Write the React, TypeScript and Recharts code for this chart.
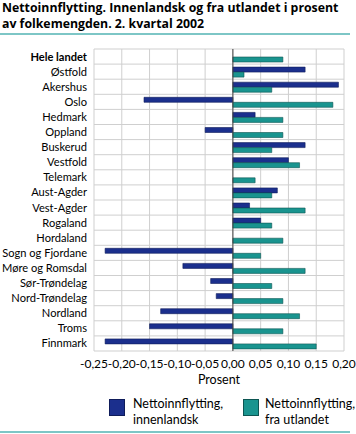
import {
  BarChart,
  Bar,
  XAxis,
  YAxis,
  CartesianGrid,
  ReferenceLine,
} from "recharts";

const fylker = [
  "Hele landet",
  "Østfold",
  "Akershus",
  "Oslo",
  "Hedmark",
  "Oppland",
  "Buskerud",
  "Vestfold",
  "Telemark",
  "Aust-Agder",
  "Vest-Agder",
  "Rogaland",
  "Hordaland",
  "Sogn og Fjordane",
  "Møre og Romsdal",
  "Sør-Trøndelag",
  "Nord-Trøndelag",
  "Nordland",
  "Troms",
  "Finnmark",
];

const innenlandsk = [
  0, 0.13, 0.19, -0.16, 0.04, -0.05, 0.13, 0.1, 0, 0.08, 0.03, 0.05, 0,
  -0.23, -0.09, -0.04, -0.03, -0.13, -0.15, -0.23,
];

const utlandet = [
  0.09, 0.02, 0.07, 0.18, 0.09, 0.09, 0.07, 0.12, 0.04, 0.07, 0.13, 0.07,
  0.09, 0.05, 0.13, 0.07, 0.09, 0.12, 0.09, 0.15,
];

const xTicks = [-0.25, -0.2, -0.15, -0.1, -0.05, 0, 0.05, 0.1, 0.15, 0.2];

const data = fylker.map((navn, i) => ({
  navn,
  innenlandsk: innenlandsk[i],
  utlandet: utlandet[i],
}));

const BLUE = "#1b2f8d";
const GREEN = "#19948f";
const FONT = "Lato, sans-serif";
const TITLE_FONT = "'Open Sans', sans-serif";

const fmt = (v: number) => v.toFixed(2).replace(".", ",");

function YTick(props: any) {
  const { x, y, payload } = props;
  const bold = payload.value === "Hele landet";
  return (
    <text
      x={x + 1}
      y={y}
      dy={4}
      textAnchor="end"
      fontSize={11.1}
      fontFamily={FONT}
      fontWeight={bold ? 700 : 400}
      fill="#000"
    >
      {payload.value}
    </text>
  );
}

export default function App() {
  return (
    <div
      style={{
        position: "absolute",
        left: 0,
        top: 0,
        width: 356,
        height: 434,
        fontFamily: FONT,
        background: "#fff",
      }}
    >
      <div
        style={{
          position: "absolute",
          left: 2,
          top: 0,
          fontFamily: TITLE_FONT,
          fontSize: 12.3,
          fontWeight: 700,
          lineHeight: "16px",
          width: 354,
        }}
      >
        Nettoinnflytting. Innenlandsk og fra utlandet i prosent
        <br />
        av folkemengden. 2. kvartal 2002
      </div>
      <div
        style={{
          position: "absolute",
          left: 0,
          top: 33,
          width: 350,
          height: 2,
          background: "#7dc6c6",
        }}
      />
      <BarChart
        width={356}
        height={434}
        data={data}
        layout="vertical"
        margin={{ top: 49, right: 12, left: 0, bottom: 63 }}
        barCategoryGap={3}
        barGap={0}
      >
        <CartesianGrid
          stroke="#cfcfcf"
          horizontalCoordinatesGenerator={({ offset }: any) =>
            fylker
              .map((_, i) => offset.top + (offset.height * i) / fylker.length)
              .concat(offset.top + offset.height)
          }
        />
        <XAxis
          type="number"
          domain={[-0.25, 0.2]}
          ticks={xTicks}
          tickFormatter={fmt}
          interval={0}
          height={20}
          axisLine={false}
          tickLine={false}
          tick={{ fontSize: 12, fontFamily: FONT, fill: "#000" }}
        />
        <YAxis
          type="category"
          dataKey="navn"
          width={94}
          axisLine={false}
          tickLine={false}
          interval={0}
          tick={<YTick />}
        />
        <ReferenceLine x={0} stroke="#444" strokeWidth={1} />
        <Bar
          dataKey="innenlandsk"
          fill={BLUE}
          stroke="#0f1c5a"
          strokeWidth={0.6}
          barSize={5}
          isAnimationActive={false}
        />
        <Bar
          dataKey="utlandet"
          fill={GREEN}
          stroke="#0d5552"
          strokeWidth={0.6}
          barSize={5}
          isAnimationActive={false}
        />
      </BarChart>
      <div
        style={{
          position: "absolute",
          left: 94,
          width: 250,
          top: 372,
          textAlign: "center",
          fontSize: 12.5,
        }}
      >
        Prosent
      </div>
      <div
        style={{
          position: "absolute",
          left: 109,
          top: 399,
          width: 16,
          height: 17,
          background: BLUE,
          border: "1px solid #0f1c5a",
          boxSizing: "border-box",
        }}
      />
      <div
        style={{
          position: "absolute",
          left: 133,
          top: 396,
          fontSize: 12.5,
          lineHeight: "16px",
        }}
      >
        Nettoinnflytting,
        <br />
        innenlandsk
      </div>
      <div
        style={{
          position: "absolute",
          left: 243,
          top: 399,
          width: 16,
          height: 17,
          background: GREEN,
          border: "1px solid #0d5552",
          boxSizing: "border-box",
        }}
      />
      <div
        style={{
          position: "absolute",
          left: 265,
          top: 396,
          fontSize: 12.5,
          lineHeight: "16px",
        }}
      >
        Nettoinnflytting,
        <br />
        fra utlandet
      </div>
      <div
        style={{
          position: "absolute",
          left: 0,
          top: 431,
          width: 350,
          height: 2,
          background: "#7dc6c6",
        }}
      />
    </div>
  );
}
